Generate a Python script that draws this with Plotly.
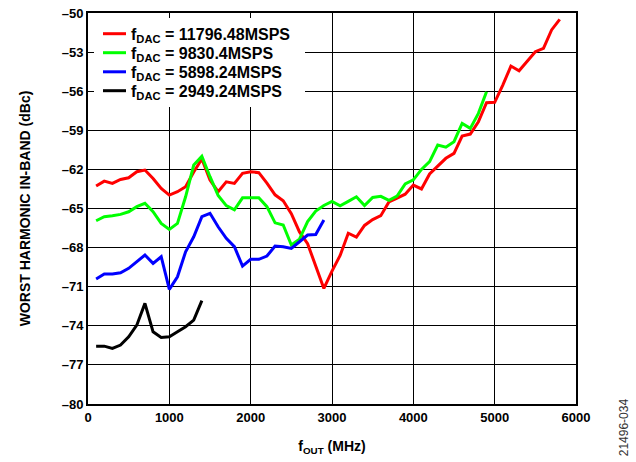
import plotly.graph_objects as go

# ---- data ----
red_x = list(range(100, 5900, 100))
red_y = [-63.28, -62.9, -63.07, -62.77, -62.64, -62.18, -62.05, -62.7, -63.46, -63.97,
         -63.71, -63.33, -62.2, -61.2, -62.82, -63.71, -62.95, -63.07, -62.3, -62.18,
         -62.25, -63.05, -63.95, -64.4, -65.4, -66.8, -67.7, -69.34, -71.13, -69.8,
         -68.6, -66.9, -67.2, -66.3, -65.85, -65.55, -64.5, -64.2, -63.9, -63.2,
         -63.5, -62.35, -61.74, -61.15, -60.77, -59.44, -59.29, -58.34, -56.88, -56.85,
         -55.53, -54.07, -54.43, -53.68, -52.97, -52.71, -51.3, -50.49]

green_x = list(range(100, 5000, 100))
green_y = [-65.94, -65.63, -65.56, -65.45, -65.25, -64.86, -64.6, -65.25, -66.14, -66.6,
           -66.14, -64.1, -61.67, -61.0, -62.56, -64.0, -64.78, -65.1, -64.18, -64.15,
           -64.17, -64.86, -66.1, -66.27, -67.8, -67.35, -66.0, -65.2, -64.77, -64.45,
           -64.8, -64.45, -64.1, -64.78, -64.15, -64.07, -64.38, -64.05, -63.12, -62.8,
           -62.0, -61.4, -60.13, -60.3, -59.87, -58.47, -58.85, -57.7, -56.04]

blue_x = list(range(100, 3000, 100))
blue_y = [-70.41, -70.03, -70.03, -69.93, -69.59, -69.09, -68.57, -69.21, -68.7, -71.2,
          -70.24, -68.32, -67.17, -65.63, -65.37, -66.4, -67.29, -67.93, -69.42, -68.9,
          -68.9, -68.65, -67.88, -67.93, -68.06, -67.55, -67.04, -67.0, -65.89]

black_x = list(range(100, 1500, 100))
black_y = [-75.56, -75.56, -75.74, -75.48, -74.84, -73.95, -72.28, -74.46, -74.89, -74.84,
           -74.46, -74.07, -73.56, -72.07]

series_names = ["f<sub>DAC</sub> = 11796.48MSPS", "f<sub>DAC</sub> = 9830.4MSPS",
                "f<sub>DAC</sub> = 5898.24MSPS", "f<sub>DAC</sub> = 2949.24MSPS"]
series_colors = ["#FF0000", "#00FF00", "#0000FF", "#000000"]

x_tickvals = [0, 1000, 2000, 3000, 4000, 5000, 6000]
x_ticktext = ["0", "1000", "2000", "3000", "4000", "5000", "6000"]
y_tickvals = [-80, -77, -74, -71, -68, -65, -62, -59, -56, -53, -50]
y_ticktext = ["–80", "–77", "–74", "–71", "–68", "–65", "–62", "–59", "–56", "–53", "–50"]

FONT = "Liberation Sans, Arial, sans-serif"

fig = go.Figure()
for xs, ys, name, col in zip([red_x, green_x, blue_x, black_x],
                             [red_y, green_y, blue_y, black_y],
                             series_names, series_colors):
    fig.add_trace(go.Scatter(x=xs, y=ys, mode="lines", name=name,
                             line=dict(color=col, width=3), showlegend=False))

axis_common = dict(showline=True, linecolor="black", linewidth=2, mirror="ticks",
                   ticks="inside", ticklen=5, tickcolor="black", tickwidth=1,
                   showgrid=True, gridcolor="black", gridwidth=1, zeroline=False,
                   tickfont=dict(family=FONT, size=13, color="black", weight="bold"))

fig.update_xaxes(range=[0, 6000], tickvals=x_tickvals, ticktext=x_ticktext,
                 title=dict(text="f<sub>OUT</sub> (MHz)", standoff=18,
                            font=dict(family=FONT, size=14, color="black", weight="bold")),
                 **axis_common)
fig.update_yaxes(range=[-80, -50], tickvals=y_tickvals, ticktext=y_ticktext,
                 title=dict(text="WORST HARMONIC IN-BAND (dBc)", standoff=28,
                            font=dict(family=FONT, size=14, color="black", weight="bold")),
                 **axis_common)

# ---- legend drawn as a white box with line samples and texts (paper coords) ----
plot_h = 462 - 13 - 58
plot_w = 636 - 88 - 60
def px_x(p):
    return (p - 88) / plot_w
def px_y(p):
    return 1 - (p - 13) / plot_h

shapes = [dict(type="rect", xref="paper", yref="paper", layer="above",
               x0=px_x(94), x1=px_x(305), y0=px_y(107), y1=px_y(18),
               fillcolor="white", line=dict(width=0))]
annotations = []
row_px = [33.7, 52.7, 71.8, 90.7]
for name, col, ry in zip(series_names, series_colors, row_px):
    shapes.append(dict(type="line", xref="paper", yref="paper", layer="above",
                       x0=px_x(103), x1=px_x(126), y0=px_y(ry), y1=px_y(ry),
                       line=dict(color=col, width=3)))
    annotations.append(dict(text=name, xref="paper", yref="paper",
                            x=px_x(129), y=px_y(ry + 2), xanchor="left", yanchor="middle",
                            showarrow=False,
                            font=dict(family=FONT, size=16, color="black", weight="bold")))

annotations.append(dict(text="21496-034", xref="paper", yref="paper", x=1.1, y=-0.06,
                        xanchor="center", yanchor="middle", textangle=-90, showarrow=False,
                        font=dict(family=FONT, size=12, color="#333333")))

fig.update_layout(
    width=636, height=462,
    margin=dict(l=88, r=60, t=13, b=58, autoexpand=False),
    paper_bgcolor="white", plot_bgcolor="white",
    showlegend=False,
    shapes=shapes,
    annotations=annotations,
)

fig.write_html("out.html")
